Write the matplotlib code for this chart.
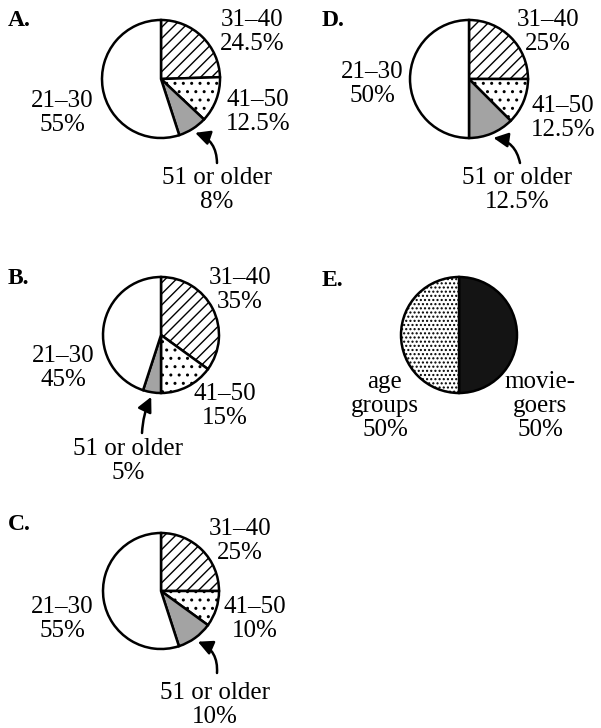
import numpy as np
import matplotlib.pyplot as plt

# Figure size in pixels
W, H = 601, 728

# Data
age_labels = ['31\u201340', '41\u201350', '51 or older', '21\u201330']
pct_a = [24.5, 12.5, 8, 55]
pct_b = [35, 15, 5, 45]
pct_c = [25, 10, 10, 55]
pct_d = [25, 12.5, 12.5, 50]
e_labels = ['movie-\ngoers', 'age\ngroups']
pct_e = [50, 50]

plt.rcParams['font.family'] = ['Liberation Serif', 'DejaVu Serif']
plt.rcParams['hatch.linewidth'] = 1.0

fig = plt.figure(figsize=(W / 100, H / 100), dpi=100)
ax = fig.add_axes([0, 0, 1, 1])


def Y(y):
    # pixel row (from top) -> data y
    return H - y


# letter, values, centre, radius, label centres, arrow start, arrow bend, letter pos
panels = [
    ('A.', pct_a, (161, 79), 59, [(252, 32), (258, 112), (217, 190), (62, 113)], (217, 163), 0.35, (8, 20)),
    ('D.', pct_d, (469, 79), 59, [(548, 32), (563, 118), (517, 190), (372, 84)], (520, 163), 0.35, (322, 20)),
    ('B.', pct_b, (161, 335), 58, [(240, 290), (225, 406), (128, 461), (63, 368)], (142, 433), -0.1, (8, 279)),
    ('C.', pct_c, (161, 591), 58, [(240, 541), (255, 619), (215, 705), (62, 619)], (217, 673), 0.35, (8, 525)),
]

fs = 18
ls = 1.12
for letter, vals, (cx, cy), r, label_pos, arrow_from, rad, lpos in panels:
    wedges, _ = ax.pie(vals, radius=r, center=(cx, Y(cy)), startangle=90, counterclock=False,
                       colors=['white', 'white', '#a3a3a3', 'white'],
                       wedgeprops=dict(edgecolor='black', linewidth=1.8))
    wedges[0].set_hatch('///')
    wedges[1].set_hatch('..')
    for lab, v, (tx, ty) in zip(age_labels, vals, label_pos):
        ax.text(tx, Y(ty), f'{lab}\n{v:g}%', ha='center', va='center', fontsize=fs, linespacing=ls)
    # arrow points at the middle of the "51 or older" wedge
    w = wedges[2]
    mid = np.radians((w.theta1 + w.theta2) / 2)
    tip = (cx + 1.08 * r * np.cos(mid), Y(cy) + 1.08 * r * np.sin(mid))
    ax.annotate('', xy=tip, xytext=(arrow_from[0], Y(arrow_from[1])),
                arrowprops=dict(arrowstyle='-|>', color='black', lw=1.8, mutation_scale=22,
                                connectionstyle=f'arc3,rad={rad}', shrinkA=0, shrinkB=0))
    ax.text(lpos[0], Y(lpos[1]), letter, ha='left', va='center', fontsize=17, fontweight='bold')

# E: moviegoers vs age groups
wedges, _ = ax.pie(pct_e, radius=58, center=(459, Y(335)), startangle=90, counterclock=False,
                   colors=['#141414', 'white'],
                   wedgeprops=dict(edgecolor='black', linewidth=1.8))
wedges[1].set_hatch('....')
for lab, v, (tx, ty) in zip(e_labels, pct_e, [(540, 406), (385, 406)]):
    ax.text(tx, Y(ty), f'{lab}\n{v:g}%', ha='center', va='center', fontsize=fs, linespacing=ls)
ax.text(322, Y(280), 'E.', ha='left', va='center', fontsize=17, fontweight='bold')

ax.set_xlim(0, W)
ax.set_ylim(0, H)
ax.set_aspect('equal')
ax.axis('off')

fig.savefig('out.png', dpi=100, facecolor='white')
